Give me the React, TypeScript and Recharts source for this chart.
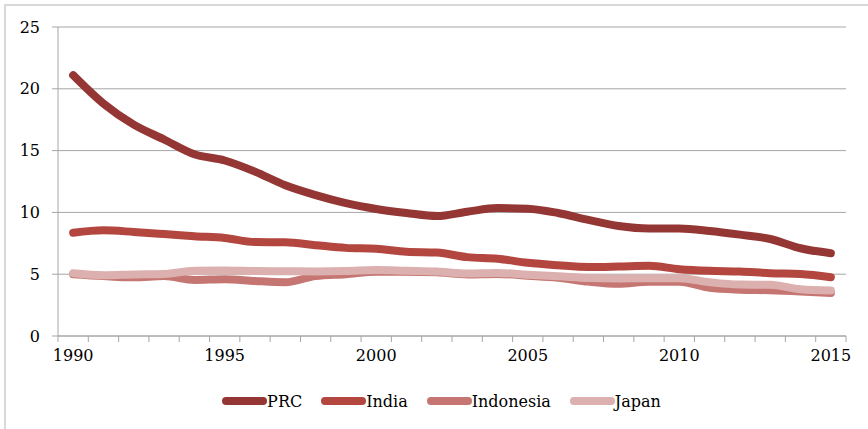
import React from 'react';
import { LineChart, Line, XAxis, YAxis, CartesianGrid, Legend } from 'recharts';

const years = [
  1990, 1991, 1992, 1993, 1994, 1995, 1996, 1997, 1998, 1999, 2000, 2001, 2002,
  2003, 2004, 2005, 2006, 2007, 2008, 2009, 2010, 2011, 2012, 2013, 2014, 2015,
];
const prc = [
  21.1, 18.8, 17.1, 15.9, 14.7, 14.2, 13.3, 12.2, 11.4, 10.75, 10.28, 9.95, 9.7,
  10.05, 10.35, 10.3, 9.95, 9.4, 8.9, 8.7, 8.7, 8.5, 8.2, 7.85, 7.1, 6.7,
];
const india = [
  8.35, 8.55, 8.42, 8.25, 8.07, 7.93, 7.6, 7.58, 7.35, 7.13, 7.05, 6.82, 6.75,
  6.38, 6.25, 5.92, 5.72, 5.58, 5.62, 5.68, 5.4, 5.27, 5.22, 5.08, 5.02, 4.76,
];
const indonesia = [
  5.0, 4.85, 4.75, 4.85, 4.54, 4.6, 4.45, 4.35, 4.85, 5.0, 5.2, 5.2, 5.15,
  4.98, 5.02, 4.88, 4.72, 4.4, 4.22, 4.38, 4.38, 3.9, 3.75, 3.7, 3.6, 3.47,
];
const japan = [
  5.08, 4.92, 4.98, 5.02, 5.28, 5.3, 5.26, 5.24, 5.22, 5.25, 5.34, 5.28, 5.22,
  5.06, 5.1, 4.96, 4.84, 4.7, 4.66, 4.68, 4.68, 4.35, 4.16, 4.14, 3.78, 3.68,
];
const yTicks = [0, 5, 10, 15, 20, 25];
const labelYears = [1990, 1995, 2000, 2005, 2010, 2015];

const series = [
  { key: 'PRC', color: '#943634' },
  { key: 'India', color: '#b3463f' },
  { key: 'Indonesia', color: '#c67672' },
  { key: 'Japan', color: '#dbb0ae' },
];

const data = years.map((year, i) => ({
  year,
  PRC: prc[i],
  India: india[i],
  Indonesia: indonesia[i],
  Japan: japan[i],
}));

// boundaries between years get a tick mark, centres get the labels
const xTicks: number[] = [];
years.forEach((y) => {
  xTicks.push(y - 0.5);
  if (labelYears.includes(y)) xTicks.push(y);
});
xTicks.push(years[years.length - 1] + 0.5);

const FONT = '"DejaVu Serif", serif';
const AXIS_GRAY = '#a6a6a6';
const TICK_SIZE = 6;
const TICK_MARGIN = 8;

const YearTick = (props: any) => {
  const { x, y, payload } = props;
  const v = payload.value;
  if (!Number.isInteger(v)) {
    const axisY = y - TICK_SIZE - TICK_MARGIN;
    return <line x1={x} x2={x} y1={axisY} y2={axisY + TICK_SIZE} stroke={AXIS_GRAY} strokeWidth={1} />;
  }
  return (
    <text x={x} y={y} dy="0.71em" textAnchor="middle" fill="#000" fontSize={16} fontFamily={FONT}>
      {v}
    </text>
  );
};

const LegendContent = () => (
  <div style={{ display: 'flex', justifyContent: 'center', alignItems: 'center', height: 30, paddingLeft: 32 }}>
    {series.map((s) => (
      <div key={s.key} style={{ display: 'flex', alignItems: 'center', marginRight: 18 }}>
        <svg width={46} height={10}>
          <line x1={5} x2={42} y1={5} y2={5} stroke={s.color} strokeWidth={8} strokeLinecap="round" />
        </svg>
        <span style={{ fontFamily: FONT, fontSize: 16, color: '#000' }}>{s.key}</span>
      </div>
    ))}
  </div>
);

export default function App() {
  return (
    <div style={{ position: 'absolute', left: 0, top: 0, width: 868, height: 429, background: '#fff' }}>
      <div
        style={{
          position: 'absolute',
          left: 4,
          top: 4,
          width: 862,
          height: 423,
          borderLeft: '2px solid #d9d9d9',
          borderTop: '2px solid #d9d9d9',
        }}
      />
      <LineChart width={868} height={429} data={data} margin={{ top: 27, right: 22, left: 8, bottom: 13 }}>
        <CartesianGrid vertical={false} stroke={AXIS_GRAY} />
        <XAxis
          dataKey="year"
          type="number"
          domain={[1989.5, 2015.5]}
          ticks={xTicks}
          interval={0}
          tickLine={false}
          tickSize={TICK_SIZE}
          tickMargin={TICK_MARGIN}
          axisLine={{ stroke: AXIS_GRAY }}
          tick={<YearTick />}
          height={50}
        />
        <YAxis
          domain={[0, 25]}
          ticks={yTicks}
          interval={0}
          width={50}
          tickSize={6}
          tickMargin={12}
          axisLine={{ stroke: AXIS_GRAY }}
          tickLine={{ stroke: AXIS_GRAY }}
          tick={{ fill: '#000', fontSize: 16, fontFamily: FONT }}
        />
        <Legend verticalAlign="bottom" content={<LegendContent />} wrapperStyle={{ left: 0, width: 868 }} />
        {series.map((s) => (
          <Line
            key={s.key}
            type="monotone"
            dataKey={s.key}
            stroke={s.color}
            strokeWidth={8}
            strokeLinecap="round"
            strokeLinejoin="round"
            dot={false}
            activeDot={false}
            isAnimationActive={false}
          />
        ))}
      </LineChart>
    </div>
  );
}
